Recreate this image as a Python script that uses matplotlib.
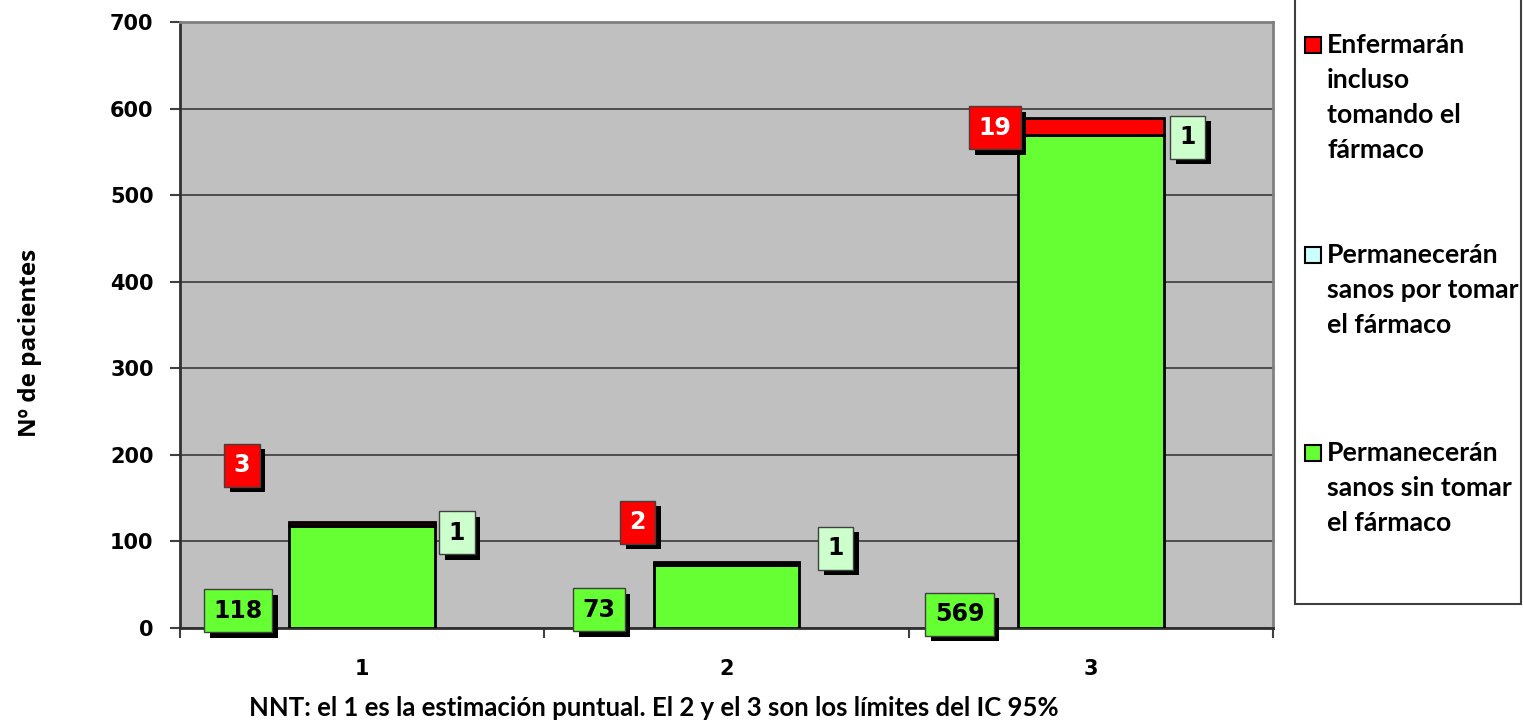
import matplotlib
matplotlib.use("Agg")
import matplotlib.pyplot as plt
from matplotlib.patches import Rectangle
import matplotlib.patheffects as pe
import numpy as np

# ---- data ----
categories = ["1", "2", "3"]
sin_farmaco = [118, 73, 569]      # green
por_farmaco = [1, 1, 1]           # light cyan
enfermaran = [3, 2, 19]           # red
series_names = ["Enfermarán\nincluso\ntomando el\nfármaco",
                "Permanecerán\nsanos por tomar\nel fármaco",
                "Permanecerán\nsanos sin tomar\nel fármaco"]
yticks = [0, 100, 200, 300, 400, 500, 600, 700]
xlabel = "NNT: el 1 es la estimación puntual. El 2 y el 3 son los límites del IC 95%"
ylabel = "Nº de pacientes"

# ---- style ----
GREEN = "#66FF33"
CYAN = "#CCFFFF"
CYAN_LBL = "#CCFFCC"
RED = "#FF0000"
BG = "#C0C0C0"
W, H = 1523, 722

# label placement (layout only): (x offset from category, y position in axis units)
green_lbl_pos = [(-0.34, 20), (-0.35, 21), (-0.36, 16)]
cyan_lbl_pos = [(0.26, 110), (0.30, 92), (0.266, 567)]
red_lbl_pos = [(-0.33, 188), (-0.244, 122), (-0.263, 578)]

fig = plt.figure(figsize=(W / 100, H / 100), dpi=100)
ax = fig.add_axes([180 / W, 1 - 628 / H, (1273 - 180) / W, (628 - 22) / H])
ax.set_facecolor(BG)

x = np.arange(len(categories))
bw = 0.4
ax.bar(x, sin_farmaco, width=bw, color=GREEN, edgecolor="black", linewidth=2, zorder=3)
b2 = np.array(sin_farmaco)
ax.bar(x, por_farmaco, width=bw, bottom=b2, color=CYAN, edgecolor="black", linewidth=2, zorder=3)
b3 = b2 + np.array(por_farmaco)
ax.bar(x, enfermaran, width=bw, bottom=b3, color=RED, edgecolor="black", linewidth=2, zorder=3)

ax.set_xlim(-0.5, len(categories) - 0.5)
ax.set_ylim(0, 700)
ax.set_yticks(yticks)
ax.set_yticklabels([str(t) for t in yticks], fontsize=15, fontweight="bold",
                   family="DejaVu Sans")
ax.tick_params(axis="y", length=7, width=1.5, pad=12, color="#404040")
ax.grid(axis="y", color="#3a3a3a", linewidth=1.2, zorder=1)
ax.set_axisbelow(True)

# x: boundary ticks (major), labels at centres (minor)
ax.set_xticks(np.arange(len(categories) + 1) - 0.5)
ax.set_xticklabels([])
ax.tick_params(axis="x", which="major", length=7, width=1.5, color="#404040")
ax.set_xticks(x, minor=True)
ax.set_xticklabels(categories, minor=True, fontsize=15, fontweight="bold", family="DejaVu Sans")
ax.tick_params(axis="x", which="minor", length=0, pad=22)

for s in ["left", "bottom"]:
    ax.spines[s].set_color("#303030")
    ax.spines[s].set_linewidth(2)
for s in ["top", "right"]:
    ax.spines[s].set_color("#808080")
    ax.spines[s].set_linewidth(2)

fig.text(654 / W, 1 - 708 / H, xlabel, ha="center", va="center",
         fontsize=18.5, fontweight="bold", family="Lato")
fig.text(30 / W, 1 - 343 / H, ylabel, rotation=90, ha="center", va="center",
         fontsize=17.5, fontweight="bold", family="Open Sans")


def label(xc, yc, txt, face, tcolor):
    t = ax.text(xc, yc, txt, ha="center", va="center", fontsize=17, fontweight="bold",
                family="DejaVu Sans", color=tcolor, zorder=6,
                bbox=dict(boxstyle="square,pad=0.4", facecolor=face, edgecolor="#404040",
                          linewidth=1))
    t.get_bbox_patch().set_path_effects([
        pe.SimplePatchShadow(offset=(4, -4), shadow_rgbFace="black", alpha=1.0),
        pe.Normal()])


for i in range(len(categories)):
    dx, yy = green_lbl_pos[i]
    label(x[i] + dx, yy, str(sin_farmaco[i]), GREEN, "black")
    dx, yy = cyan_lbl_pos[i]
    label(x[i] + dx, yy, str(por_farmaco[i]), CYAN_LBL, "black")
    dx, yy = red_lbl_pos[i]
    label(x[i] + dx, yy, str(enfermaran[i]), RED, "white")

# ---- legend (manual box) ----
def fx(px):
    return px / W


def fy(py):
    return 1 - py / H


fig.add_artist(Rectangle((fx(1295), fy(604)), fx(1521) - fx(1295), fy(-5) - fy(604),
                         transform=fig.transFigure, facecolor="white",
                         edgecolor="#404040", linewidth=1.5))
leg_colors = [RED, CYAN, GREEN]
leg_first_y = [45, 255, 453]
line_h = 35
for name, col, y0 in zip(series_names, leg_colors, leg_first_y):
    fig.add_artist(Rectangle((fx(1305), fy(y0 + 8)), 16 / W, 16 / H,
                             transform=fig.transFigure, facecolor=col,
                             edgecolor="black", linewidth=1.5))
    for k, line in enumerate(name.split("\n")):
        fig.text(fx(1327), fy(y0 + k * line_h), line, ha="left", va="center",
                 fontsize=19.2, fontweight="bold", family="Lato")

fig.savefig("out.png", dpi=100)
